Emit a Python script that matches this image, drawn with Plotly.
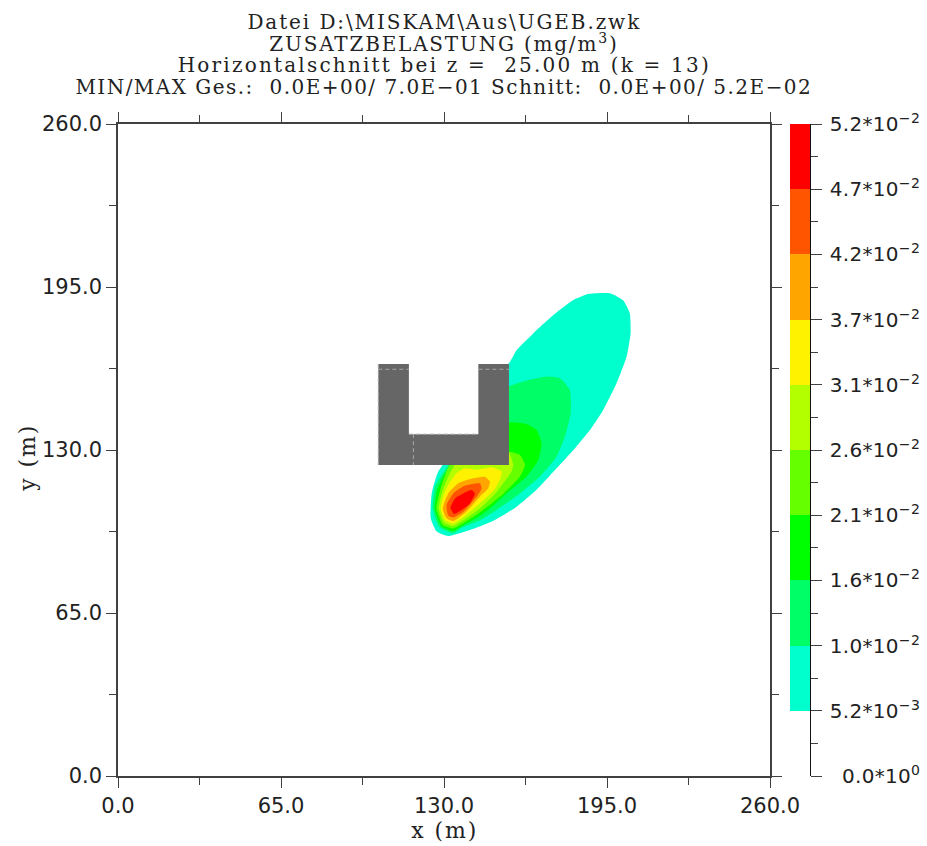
import plotly.graph_objects as go

W, H = 927, 846
AX_L, AX_R, AX_T, AX_B = 118, 770, 124, 776
CB_L, CB_R = 790, 810

# Contour bands, in metres
band_colors = ["#00FFCC", "#00FF66", "#00FF00", "#66FF00", "#B3FF00", "#FFF200", "#FFA500", "#FF5500", "#FF0000"]
band_low = [0.0052, 0.0104, 0.0156, 0.0208, 0.026, 0.0312, 0.0364, 0.0416, 0.0468]
band_step = 0.0052

aqua_x = [187.5, 196.2, 201.5, 204.1, 204.4, 202.8, 198.8, 193.5, 188.2, 181.6, 174.9, 166.9, 159.0, 149.7, 141.7, 131.7, 127.1, 124.7, 125.1, 127.7, 132.4, 140.0, 150.0, 150.0, 155.9, 159.0, 165.6, 173.6, 181.6]
aqua_y = [192.2, 192.5, 189.6, 184.5, 176.5, 167.2, 156.6, 146.0, 138.0, 130.0, 122.7, 114.1, 107.4, 101.8, 98.6, 95.7, 97.5, 102.8, 112.7, 121.4, 127.4, 130.0, 131.0, 160.0, 164.6, 169.9, 176.5, 183.8, 189.8]

spring_x = [155.9, 161.6, 170.9, 176.2, 180.2, 180.5, 178.2, 174.9, 168.3, 160.3, 151.0, 144.3, 137.0, 133.7, 128.0, 125.5, 126.5, 130.4, 133.7, 150.0, 150.0]
spring_y = [155.3, 157.3, 159.3, 158.6, 153.9, 144.6, 135.3, 127.4, 119.4, 112.7, 106.1, 102.0, 99.0, 96.8, 99.5, 106.7, 115.4, 122.0, 126.0, 130.0, 150.0]

green_x = [155.9, 162.9, 166.9, 168.9, 167.6, 162.9, 155.0, 148.0, 144.3, 137.7, 133.7, 129.0, 126.3, 127.3, 130.0, 134.4, 150.0]
green_y = [140.9, 140.4, 138.0, 132.7, 126.0, 119.4, 112.7, 106.5, 103.7, 100.0, 97.7, 99.5, 106.7, 114.0, 120.0, 125.0, 130.0]

chart_x = [155.9, 160.3, 162.3, 160.3, 153.6, 144.3, 137.7, 133.7, 129.5, 127.0, 128.5, 132.4, 145.0]
chart_y = [129.4, 128.0, 124.1, 119.4, 112.5, 105.1, 100.8, 98.7, 100.0, 106.7, 114.0, 124.1, 130.0]

lime_x = [155.9, 157.6, 156.9, 150.3, 144.3, 137.7, 133.7, 130.0, 127.9, 129.5, 134.4, 145.0]
lime_y = [128.7, 124.1, 121.4, 112.5, 106.7, 102.0, 99.7, 101.0, 106.7, 114.0, 124.1, 129.0]

yellow_x = [143.0, 149.0, 153.0, 152.3, 150.0, 144.3, 138.0, 133.7, 130.5, 128.7, 129.5, 131.7, 135.0, 138.3]
yellow_y = [122.1, 123.0, 121.4, 118.1, 114.0, 108.7, 103.5, 100.7, 102.0, 106.7, 111.0, 116.0, 120.7, 122.7]

orange_x = [140.4, 146.3, 148.3, 147.5, 144.3, 139.0, 133.7, 131.0, 129.5, 131.7, 135.7]
orange_y = [118.4, 119.3, 117.4, 114.5, 111.4, 105.5, 101.7, 102.8, 106.7, 112.7, 116.7]

ored_x = [138.4, 144.3, 145.0, 143.5, 137.7, 133.7, 131.7, 131.0, 133.7]
ored_y = [115.8, 116.7, 114.7, 112.0, 105.4, 103.1, 103.8, 108.0, 112.7]

red_x = [141.0, 142.3, 140.3, 137.0, 134.0, 132.6, 134.4, 137.7]
red_y = [114.0, 112.7, 108.7, 106.1, 104.5, 107.0, 110.7, 112.7]

band_polys = [(aqua_x, aqua_y), (spring_x, spring_y), (green_x, green_y), (chart_x, chart_y),
              (lime_x, lime_y), (yellow_x, yellow_y), (orange_x, orange_y), (ored_x, ored_y), (red_x, red_y)]

# U-shaped building
building_x = [103.8, 116.0, 116.0, 143.7, 143.7, 155.9, 155.9, 103.8]
building_y = [164.3, 164.3, 136.3, 136.3, 164.3, 164.3, 124.0, 124.0]
seam_x = [[103.8, 116.0], [143.7, 155.9], [116.0, 143.7], [117.8, 117.8], [103.8, 103.8]]
seam_y = [[162.2, 162.2], [162.2, 162.2], [136.3, 136.3], [136.3, 124.0], [164.3, 124.0]]

axis_ticks = [0, 65, 130, 195, 260]
axis_ticktext = ["0.0", "65.0", "130.0", "195.0", "260.0"]
cb_ticks = [0, 0.0052, 0.0104, 0.0156, 0.0208, 0.026, 0.0312, 0.0364, 0.0416, 0.0468, 0.052]
cb_ticktext = ["0.0*10<sup>0</sup>", "5.2*10<sup>\u22123</sup>", "1.0*10<sup>\u22122</sup>", "1.6*10<sup>\u22122</sup>",
               "2.1*10<sup>\u22122</sup>", "2.6*10<sup>\u22122</sup>", "3.1*10<sup>\u22122</sup>", "3.7*10<sup>\u22122</sup>",
               "4.2*10<sup>\u22122</sup>", "4.7*10<sup>\u22122</sup>", "5.2*10<sup>\u22122</sup>"]
title_lines = ["Datei D:\\MISKAM\\Aus\\UGEB.zwk",
               "ZUSATZBELASTUNG (mg/m<sup>3</sup>)",
               "Horizontalschnitt bei z =  25.00 m (k = 13)",
               "MIN/MAX Ges.:  0.0E+00/ 7.0E\u221201 Schnitt:  0.0E+00/ 5.2E\u221202"]
title_y_px = [22, 43, 65, 87]

SERIF = "DejaVu Serif"
SANS = "DejaVu Sans"
LINE = "#404040"
INK = "#222222"

fig = go.Figure()
for (xs, ys), c in zip(band_polys, band_colors):
    fig.add_trace(go.Scatter(x=xs + xs[:1], y=ys + ys[:1], mode="lines", fill="toself", fillcolor=c,
                             line=dict(width=0, color=c, shape="spline", smoothing=0.5),
                             hoverinfo="skip", showlegend=False))
fig.add_trace(go.Scatter(x=building_x, y=building_y, mode="lines", fill="toself", fillcolor="#666666",
                         line=dict(width=0, color="#666666"), hoverinfo="skip", showlegend=False))
for sx, sy in zip(seam_x, seam_y):
    fig.add_trace(go.Scatter(x=sx, y=sy, mode="lines", line=dict(width=1, color="#A8A8A8", dash="4px,3px"),
                             hoverinfo="skip", showlegend=False))

fig.add_trace(go.Bar(x=[0.5] * len(band_low), y=[band_step] * len(band_low), base=band_low, width=1,
                     marker=dict(color=band_colors, line=dict(width=0)), xaxis="x2", yaxis="y2",
                     hoverinfo="skip", showlegend=False))

common = dict(linecolor=LINE, linewidth=1.5, tickcolor=LINE, tickwidth=1.2, ticklen=10, ticks="outside",
              range=[0, 260], tickvals=axis_ticks, ticktext=axis_ticktext, mirror="ticks", showgrid=False,
              zeroline=False, automargin=False, tickfont=dict(family=SANS, size=21, color=INK),
              minor=dict(tickvals=[32.5, 97.5, 162.5, 227.5], ticklen=7, tickcolor=LINE, tickwidth=1.2, ticks="outside"))

fig.update_layout(
    width=W, height=H, margin=dict(l=0, r=0, t=0, b=0, autoexpand=False), plot_bgcolor="white", paper_bgcolor="white",
    bargap=0,
    xaxis=dict(domain=[AX_L / W, AX_R / W], anchor="y", **common),
    yaxis=dict(domain=[1 - AX_B / H, 1 - AX_T / H], anchor="x", **common),
    xaxis2=dict(domain=[CB_L / W, CB_R / W], anchor="y2", range=[0, 1], visible=False, automargin=False),
    yaxis2=dict(domain=[1 - AX_B / H, 1 - AX_T / H], anchor="x2", side="right", range=[0, 0.052],
                tickvals=cb_ticks, showticklabels=False, ticks="outside", ticklen=11, tickwidth=1.2, automargin=False,
                tickcolor=LINE, showline=True, linecolor="#111111", linewidth=1.2, showgrid=False, zeroline=False,
                minor=dict(tickvals=[0.0026 + 0.0052 * i for i in range(10)], ticklen=7, tickcolor=LINE,
                           tickwidth=1.2, ticks="outside")),
)
for line, y_px in zip(title_lines, title_y_px):
    fig.add_annotation(text=line, xref="paper", yref="paper", x=444 / W, y=1 - y_px / H, showarrow=False,
                       xanchor="center", yanchor="middle", font=dict(family=SERIF, size=20, color=INK))
fig.add_annotation(text="x (m)", xref="paper", yref="paper", x=444 / W, y=1 - 830 / H, showarrow=False,
                   xanchor="center", yanchor="middle", font=dict(family=SERIF, size=22, color=INK))
fig.add_annotation(text="y (m)", xref="paper", yref="paper", x=27 / W, y=1 - 458 / H, showarrow=False, textangle=-90,
                   xanchor="center", yanchor="middle", font=dict(family=SERIF, size=22, color=INK))
for v, t in zip(cb_ticks, cb_ticktext):
    fig.add_annotation(text=t, xref="paper", yref="y2", x=921 / W, y=v, showarrow=False, xanchor="right",
                       yanchor="middle", yshift=1, font=dict(family=SANS, size=20, color=INK))

spacing_js = """
document.body.style.margin = '0';
document.querySelectorAll('.annotation-text').forEach(function (t) {
  var s = t.textContent, sp = '1.9px';
  if (s.indexOf('*10') >= 0) { sp = '0.3px'; }
  else if (s.indexOf('Horizontal') === 0) { sp = '2.2px'; }
  else if (s.indexOf('MIN/MAX') === 0) { sp = '1.47px'; }
  else if (s.indexOf('ZUSATZ') === 0) { sp = '1.8px'; }
  t.style.letterSpacing = sp;
});
"""
fig.write_html("out.html", config={"displayModeBar": False}, post_script=spacing_js)
